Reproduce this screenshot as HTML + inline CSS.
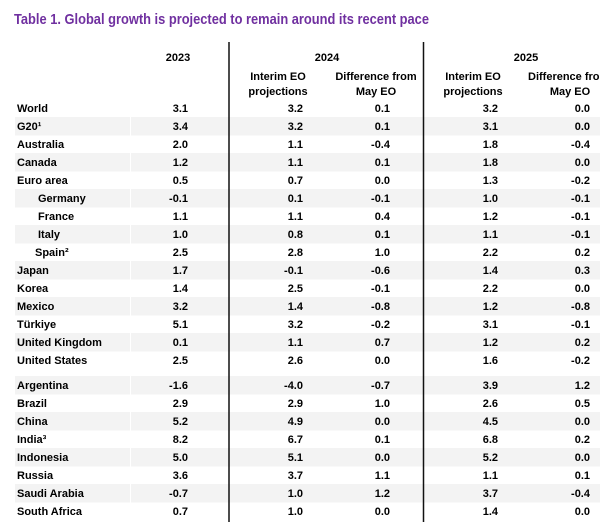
<!DOCTYPE html>
<html><head><meta charset="utf-8"><style>
html,body{margin:0;padding:0;background:#fff;}
svg{display:block;font-family:"Liberation Sans",Arial,sans-serif;}
text{font-weight:bold;font-size:11px;fill:#000;}
</style></head><body>
<svg id="tbl" width="600" height="522" viewBox="0 0 600 522" xmlns="http://www.w3.org/2000/svg">
<text x="14" y="24" textLength="415" lengthAdjust="spacingAndGlyphs" style="font-size:15px;fill:#7030a0">Table 1. Global growth is projected to remain around its recent pace</text>
<g id="bands"></g>
<text x="178" y="61" text-anchor="middle">2023</text>
<text x="327" y="61" text-anchor="middle">2024</text>
<text x="526" y="61" text-anchor="middle">2025</text>
<text x="278" y="80" text-anchor="middle">Interim EO</text>
<text x="278" y="95" text-anchor="middle">projections</text>
<text x="376" y="80" text-anchor="middle">Difference from</text>
<text x="376" y="95" text-anchor="middle">May EO</text>
<text x="473" y="80" text-anchor="middle">Interim EO</text>
<text x="473" y="95" text-anchor="middle">projections</text>
<text x="528" y="80">Difference from</text>
<text x="570" y="95" text-anchor="middle">May EO</text>
<g id="rows"></g>
<line x1="229" y1="42" x2="229" y2="522" stroke="#111" stroke-width="1.5"/>
<line x1="423.5" y1="42" x2="423.5" y2="522" stroke="#111" stroke-width="1.5"/>
</svg>
<script>
const countries=["World","G20¹","Australia","Canada","Euro area","Germany","France","Italy","Spain²","Japan","Korea","Mexico","Türkiye","United Kingdom","United States","Argentina","Brazil","China","India³","Indonesia","Russia","Saudi Arabia","South Africa"];
const indent=[0,0,0,0,0,21,21,21,18,0,0,0,0,0,0,0,0,0,0,0,0,0,0];
const y2023=["3.1","3.4","2.0","1.2","0.5","-0.1","1.1","1.0","2.5","1.7","1.4","3.2","5.1","0.1","2.5","-1.6","2.9","5.2","8.2","5.0","3.6","-0.7","0.7"];
const int2024=["3.2","3.2","1.1","1.1","0.7","0.1","1.1","0.8","2.8","-0.1","2.5","1.4","3.2","1.1","2.6","-4.0","2.9","4.9","6.7","5.1","3.7","1.0","1.0"];
const diff2024=["0.1","0.1","-0.4","0.1","0.0","-0.1","0.4","0.1","1.0","-0.6","-0.1","-0.8","-0.2","0.7","0.0","-0.7","1.0","0.0","0.1","0.0","1.1","1.2","0.0"];
const int2025=["3.2","3.1","1.8","1.8","1.3","1.0","1.2","1.1","2.2","1.4","2.2","1.2","3.1","1.2","1.6","3.9","2.6","4.5","6.8","5.2","1.1","3.7","1.4"];
const diff2025=["0.0","0.0","-0.4","0.0","-0.2","-0.1","-0.1","-0.1","0.2","0.3","0.0","-0.8","-0.1","0.2","-0.2","1.2","0.5","0.0","0.2","0.0","0.1","-0.4","0.0"];
const NS="http://www.w3.org/2000/svg";
const rows=document.getElementById('rows'), bands=document.getElementById('bands');
function rowY(i){return 108+i*18+(i>=15?7:0);}
const colRight=[188,303,390,498,590];
const cols=[y2023,int2024,diff2024,int2025,diff2025];
const colNames=['val-2023','val-2024-interim','val-2024-diff','val-2025-interim','val-2025-diff'];
countries.forEach((c,i)=>{
  const y=rowY(i);
  const shaded=(i<15)?(i%2===1):((i-15)%2===0);
  if(shaded){
    const r=document.createElementNS(NS,'rect');
    r.setAttribute('x',15);r.setAttribute('y',y-9);r.setAttribute('width',585);r.setAttribute('height',18.5);
    r.setAttribute('fill','#f3f3f3');
    
    
    bands.appendChild(r);
    const g=document.createElementNS(NS,'rect');
    g.setAttribute('x',130);g.setAttribute('y',y-9);g.setAttribute('width',1);g.setAttribute('height',18.5);g.setAttribute('fill','#fff');
    
    
    bands.appendChild(g);
  }
  const t=document.createElementNS(NS,'text');
  t.setAttribute('x',17+indent[i]);t.setAttribute('y',y+4);
  t.textContent=c;
  
  
  rows.appendChild(t);
  cols.forEach((arr,k)=>{
    const v=document.createElementNS(NS,'text');
    v.setAttribute('x',colRight[k]);v.setAttribute('y',y+4);v.setAttribute('text-anchor','end');
    v.textContent=arr[i];
    
    
    rows.appendChild(v);
  });
});
</script>
</body></html>
